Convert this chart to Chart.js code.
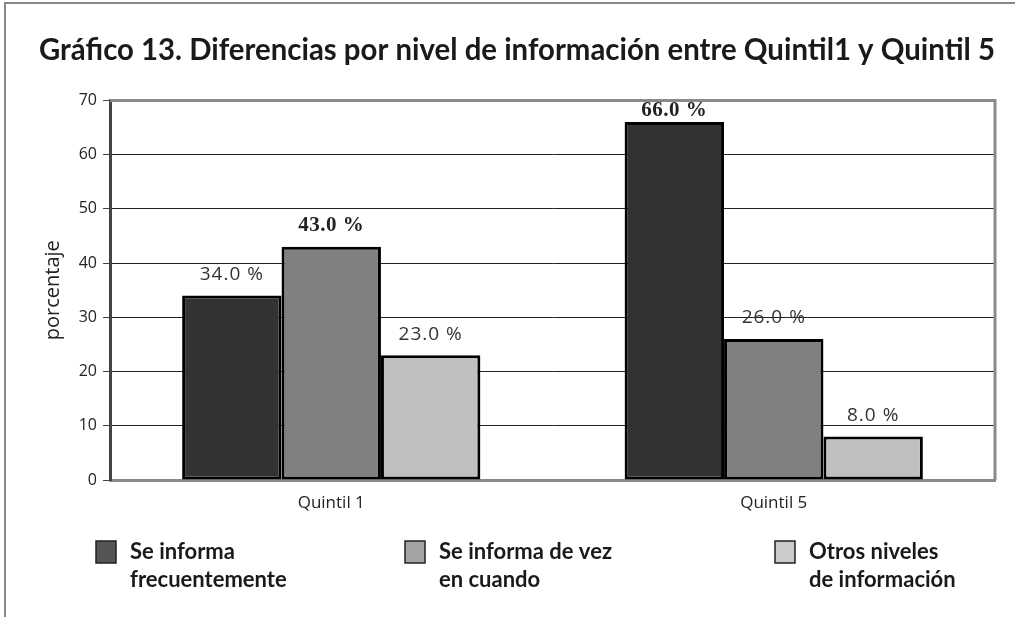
<!DOCTYPE html>
<html>
<head>
<meta charset="utf-8">
<script src="https://cdn.jsdelivr.net/npm/chart.js@4.4.0/dist/chart.umd.min.js"></script>
<style>
  html, body { margin: 0; padding: 0; background: #fff; }
  #wrap { width: 1015px; height: 617px; position: relative; }
</style>
</head>
<body>
<div id="wrap"><canvas id="grafico"></canvas></div>
<script>
// datos del grafico
var categorias = ['Quintil 1', 'Quintil 5'];
var frecuente = [34, 66];
var deVezEnCuando = [43, 26];
var otrosNiveles = [23, 8];
var nombresSeries = [
    ['Se informa', 'frecuentemente'],
    ['Se informa de vez', 'en cuando'],
    ['Otros niveles', 'de información']
];
var ticksY = [0, 10, 20, 30, 40, 50, 60, 70];

var coloresBarras = ['#333333', '#808080', '#c0c0c0'];
var coloresLeyenda = ['#555555', '#a3a3a3', '#cbcbcb'];
var leyendaX = [96, 405, 775];

// marco exterior de la figura
var marcoExterior = {
    id: 'marcoExterior',
    beforeDraw: function (chart) {
        var c = chart.ctx;
        c.save();
        c.fillStyle = '#fff';
        c.fillRect(0, 0, chart.width, chart.height);
        c.strokeStyle = '#888';
        c.lineWidth = 2;
        c.beginPath();
        c.moveTo(4, 3); c.lineTo(chart.width, 3);
        c.moveTo(5, 3); c.lineTo(5, chart.height);
        c.stroke();
        c.restore();
    }
};

// borde gris arriba y a la derecha del area de trazado
var marcoPlot = {
    id: 'marcoPlot',
    beforeDatasetsDraw: function (chart) {
        var a = chart.chartArea, c = chart.ctx;
        c.save();
        c.strokeStyle = '#8a8a8a';
        c.lineWidth = 3;
        c.beginPath();
        c.moveTo(a.left, a.top); c.lineTo(a.right, a.top); c.lineTo(a.right, a.bottom);
        c.stroke();
        c.restore();
    }
};

// etiquetas de valor encima de cada barra
var etiquetas = {
    id: 'etiquetas',
    afterDatasetsDraw: function (chart) {
        var c = chart.ctx, a = chart.chartArea;
        c.save();
        c.textAlign = 'center';
        c.textBaseline = 'middle';
        chart.data.datasets.forEach(function (ds, i) {
            chart.getDatasetMeta(i).data.forEach(function (bar, j) {
                var v = ds.data[j];
                var maxCat = Math.max.apply(null, chart.data.datasets.map(function (d) { return d.data[j]; }));
                if (v === maxCat) {
                    c.font = 'bold 21px "Liberation Serif"';
                    c.letterSpacing = '0.5px';
                    c.fillStyle = '#222';
                } else {
                    c.font = '19px "Open Sans"';
                    c.letterSpacing = '1px';
                    c.fillStyle = '#333';
                }
                var y = Math.max(bar.y - 21, a.top + 10);
                c.fillText(v.toFixed(1) + ' %', bar.x, y);
            });
        });
        c.restore();
    }
};

// leyenda en dos lineas
var leyenda = {
    id: 'leyenda',
    afterDraw: function (chart) {
        var c = chart.ctx;
        c.save();
        c.font = 'bold 22px Lato';
        c.textBaseline = 'alphabetic';
        c.textAlign = 'left';
        nombresSeries.forEach(function (lineas, i) {
            var x = leyendaX[i];
            c.fillStyle = coloresLeyenda[i];
            c.fillRect(x, 541, 20, 22);
            c.strokeStyle = '#222';
            c.lineWidth = 1.5;
            c.strokeRect(x, 541, 20, 22);
            c.fillStyle = '#1a1a1a';
            lineas.forEach(function (t, k) {
                c.fillText(t, x + 34, 559 + k * 28);
            });
        });
        c.restore();
    }
};

function dibujar() {
    var ctx = document.getElementById('grafico').getContext('2d');
    new Chart(ctx, {
        type: 'bar',
        data: {
            labels: categorias,
            datasets: [
                { label: nombresSeries[0].join(' '), data: frecuente },
                { label: nombresSeries[1].join(' '), data: deVezEnCuando },
                { label: nombresSeries[2].join(' '), data: otrosNiveles }
            ].map(function (ds, i) {
                ds.backgroundColor = coloresBarras[i];
                ds.borderColor = '#000';
                ds.borderWidth = 3;
                ds.borderSkipped = false;
                ds.categoryPercentage = 0.674;
                ds.barPercentage = 1.0;
                return ds;
            })
        },
        options: {
            responsive: true,
            maintainAspectRatio: false,
            animation: false,
            layout: { padding: { left: 39, right: 20, bottom: 97, top: 0 } },
            plugins: {
                legend: { display: false },
                tooltip: { enabled: false },
                title: {
                    display: true,
                    text: 'Gráfico 13. Diferencias por nivel de información entre Quintil1 y Quintil 5',
                    color: '#1a1a1a',
                    font: { family: 'Lato', size: 29.5, weight: 'bold' },
                    padding: { top: 33, bottom: 32 }
                }
            },
            scales: {
                x: {
                    grid: { display: false, drawTicks: false },
                    border: { display: true, color: '#8a8a8a', width: 3 },
                    ticks: { color: '#222', padding: 13, font: { family: 'Open Sans', size: 17 } },
                    afterFit: function (s) { s.height = 40; }
                },
                y: {
                    min: 0,
                    max: 70,
                    afterBuildTicks: function (s) { s.ticks = ticksY.map(function (v) { return { value: v }; }); },
                    grid: {
                        color: function (c) {
                            var v = c.tick ? c.tick.value : 0;
                            return (v === 0 || v === 70) ? 'rgba(0,0,0,0)' : '#222';
                        },
                        lineWidth: 1,
                        tickColor: '#444',
                        tickLength: 7
                    },
                    border: { display: true, color: '#444', width: 3 },
                    ticks: { color: '#222', padding: 6, font: { family: 'Open Sans', size: 16 } },
                    title: {
                        display: true,
                        text: 'porcentaje',
                        color: '#222',
                        font: { family: 'Open Sans', size: 20 },
                        padding: { top: 2, bottom: 0 }
                    },
                    afterFit: function (s) { s.width = 71; }
                }
            }
        },
        plugins: [marcoExterior, marcoPlot, etiquetas, leyenda]
    });
}

Promise.all([
    document.fonts.load('17px "Open Sans"'),
    document.fonts.load('bold 22px Lato'),
    document.fonts.load('bold 20px "Liberation Serif"')
]).then(dibujar, dibujar);
</script>
</body>
</html>
